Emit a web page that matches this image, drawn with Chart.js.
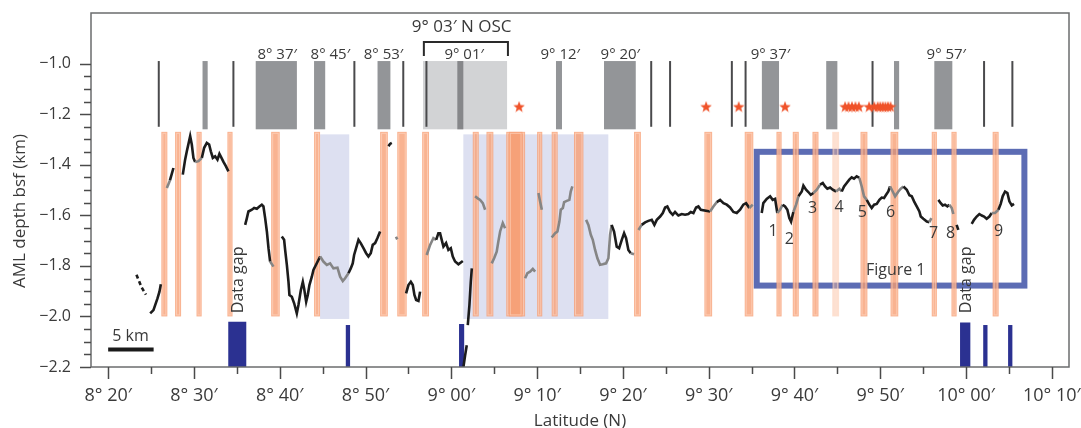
<!DOCTYPE html>
<html>
<head>
<meta charset="utf-8">
<script src="https://cdn.jsdelivr.net/npm/chart.js@4.4.1/dist/chart.umd.min.js"></script>
<style>
  html, body { margin: 0; padding: 0; background: #fff; }
  #wrap { width: 1081px; height: 428px; }
</style>
</head>
<body>
<div id="wrap"><canvas id="amlChart" width="1081" height="428"></canvas></div>
<script>
// latitude is in minutes north (8°20′ = 500), depth in km below seafloor
const latTicks = [500, 510, 520, 530, 540, 550, 560, 570, 580, 590, 600, 610];
const depthTicks = [-2.2, -2.0, -1.8, -1.6, -1.4, -1.2, -1.0];

// ridge segments (grey blocks) and fourth-order discontinuities (thin lines)
const segmentBlocks = [[511.0, 511.6], [517.2, 522.0], [524.0, 525.3], [531.4, 532.9], [552.2, 552.9],
  [557.8, 561.5], [576.2, 578.2], [583.7, 585.0], [591.6, 592.2], [596.3, 598.4]];
const segmentLines = [505.9, 514.6, 528.7, 534.4, 563.3, 565.5, 572.7, 574.3, 589.1, 602.1, 605.4];
const segmentNames = ['8° 37′', '8° 45′', '8° 53′', '9° 01′', '9° 12′', '9° 20′', '9° 37′', '9° 57′'];
const segmentNameLat = [519.7, 525.9, 532.1, 541.5, 552.7, 559.7, 577.2, 597.7];

// 9°03′N overlapping spreading centre
const oscSpan = [536.7, 546.5];
const oscLine = 537.1;
const oscBlock = [540.7, 541.4];

// vent sites
const ventLat = [547.9, 569.7, 573.5, 578.9, 585.9, 586.3, 586.7, 587.1, 587.5,
  588.7, 589.3, 589.7, 590.0, 590.3, 590.6, 590.9, 591.2];

// AML disruptions
const amlBreaks = [[506.2, 506.9], [507.8, 508.5], [510.3, 510.9], [513.9, 514.5], [519.0, 520.0], [524.0, 524.7],
  [531.7, 532.6], [533.7, 534.8], [536.6, 537.4], [542.5, 543.2], [544.1, 544.9], [546.4, 548.6], [546.7, 548.3],
  [550.0, 550.6], [551.7, 552.4], [554.3, 555.4], [561.3, 562.1], [569.5, 570.4], [574.2, 575.2], [577.9, 578.5],
  [579.8, 580.5], [582.1, 582.8], [587.7, 588.5], [591.2, 592.1], [596.0, 596.6], [598.3, 598.9], [603.1, 603.8]];
const faintBreaks = [[584.4, 585.2]];

// shaded stretches
const shadedSpans = [[524.7, 528.1], [541.4, 558.3]];

// data gaps along the track
const gapBars = [[514.0, 516.1], [527.7, 528.2], [540.9, 541.5], [599.3, 600.5], [602.0, 602.5], [604.9, 605.4]];
const gapTops = [-2.021, -2.034, -2.03, -2.024, -2.034, -2.034];

// numbered sites
const siteNames = ['1', '2', '3', '4', '5', '6', '7', '8', '9'];
const siteLat = [577.5, 579.4, 582.1, 585.2, 587.9, 591.2, 596.2, 598.2, 603.8];
const siteDepth = [-1.662, -1.697, -1.571, -1.570, -1.589, -1.589, -1.671, -1.671, -1.664];

// "Figure 1" area: lat from, lat to, depth top, depth bottom
const figureArea = [575.6, 606.8, -1.349, -1.878];

// where the picked AML reflector is drawn in grey
const grayStretches = [[506.7, 507.3], [510.1, 510.9], [519.0, 519.4], [524.5, 528.1], [533.4, 533.8], [537.0, 538.3],
  [542.6, 546.4], [548.5, 549.9], [550.1, 550.6], [551.6, 554.2], [555.6, 558.6], [561.0, 561.4], [561.7, 562.2],
  [569.9, 570.9], [574.6, 575.2], [577.9, 578.6], [579.8, 580.6], [582.2, 582.9], [584.8, 585.6], [587.5, 588.4],
  [591.1, 592.6], [595.8, 596.0], [598.0, 598.6], [602.9, 603.9]];

// AML depth picks, one array per continuous stretch
const amlProfile = [
  [[503.3, -1.835], [503.6, -1.86], [503.9, -1.885], [504.4, -1.914]],
  [[504.90, -1.988], [505.28, -1.975], [505.48, -1.955], [505.75, -1.929], [505.98, -1.902], [506.14, -1.873]],
  [[506.84, -1.492], [507.2, -1.462], [507.61, -1.413]],
  [[508.70, -1.439], [508.97, -1.380], [509.17, -1.347], [509.56, -1.287], [509.75, -1.320], [509.94, -1.373],
   [510.14, -1.389], [510.53, -1.386], [510.92, -1.373], [511.19, -1.333], [511.50, -1.314], [511.77, -1.320],
   [511.97, -1.347], [512.20, -1.373], [512.47, -1.367], [512.74, -1.380], [512.97, -1.357], [513.21, -1.373],
   [513.44, -1.389], [513.72, -1.406], [514.02, -1.426]],
  [[515.97, -1.638], [516.17, -1.611], [516.35, -1.585], [516.75, -1.578], [517.02, -1.571], [517.33, -1.574],
   [517.63, -1.565], [517.91, -1.558], [518.10, -1.565], [518.30, -1.611], [518.50, -1.664], [518.69, -1.730],
   [518.88, -1.783], [519.27, -1.803]],
  [[520.24, -1.684], [520.51, -1.697], [520.63, -1.737], [520.83, -1.796], [521.02, -1.863], [521.13, -1.915],
   [521.41, -1.922], [521.68, -1.948], [521.99, -1.988], [522.18, -1.955], [522.46, -1.896], [522.69, -1.863],
   [522.84, -1.889], [523.08, -1.942], [523.27, -1.915], [523.46, -1.876], [523.74, -1.843], [523.93, -1.816],
   [524.71, -1.763], [525.09, -1.783], [525.49, -1.796], [525.87, -1.790], [526.26, -1.810], [526.73, -1.807],
   [527.04, -1.843], [527.35, -1.860], [527.62, -1.849], [528.01, -1.829], [528.28, -1.810], [528.51, -1.790],
   [528.67, -1.757], [528.90, -1.730], [529.18, -1.697], [529.44, -1.710], [529.76, -1.730], [530.07, -1.750],
   [530.34, -1.763], [530.61, -1.750], [530.84, -1.717], [531.12, -1.710], [531.39, -1.690], [531.70, -1.664]],
  [[532.67, -1.327], [532.85, -1.318], [533.06, -1.314]],
  [[533.55, -1.685], [533.7, -1.695]],
  [[534.73, -1.909], [535.0, -1.876], [535.28, -1.863], [535.51, -1.876], [535.70, -1.915], [535.90, -1.935],
   [536.17, -1.939], [536.36, -1.902]],
  [[537.13, -1.757], [537.53, -1.717], [537.91, -1.690], [538.23, -1.697], [538.49, -1.671], [538.69, -1.671],
   [538.88, -1.697], [539.08, -1.724], [539.39, -1.710], [539.66, -1.737], [539.94, -1.730], [540.17, -1.763],
   [540.44, -1.783], [540.83, -1.794], [541.34, -1.781]],
  [[541.41, -2.20], [541.61, -2.154], [541.80, -2.114]],
  [[541.92, -2.034], [542.11, -1.955], [542.27, -1.863], [542.39, -1.810]],
  [[542.77, -1.525], [543.04, -1.532], [543.36, -1.539], [543.67, -1.552], [543.94, -1.578]],
  [[544.71, -1.790], [544.99, -1.770], [545.29, -1.744], [545.48, -1.704], [545.69, -1.664], [546.0, -1.631],
   [546.27, -1.651]],
  [[548.6, -1.849], [548.87, -1.829], [549.18, -1.823], [549.50, -1.812], [549.77, -1.823]],
  [[550.16, -1.512], [550.35, -1.545], [550.55, -1.578]],
  [[551.70, -1.688], [552.10, -1.671], [552.37, -1.664], [552.60, -1.625], [552.76, -1.578], [553.0, -1.571],
   [553.15, -1.548], [553.46, -1.543], [553.76, -1.539], [553.92, -1.506], [554.11, -1.486]],
  [[555.71, -1.618], [555.98, -1.638], [556.26, -1.677], [556.49, -1.697], [556.76, -1.737], [557.03, -1.770],
   [557.34, -1.796], [557.65, -1.794], [558.04, -1.790], [558.31, -1.770], [558.51, -1.677], [558.69, -1.638],
   [558.97, -1.664], [559.28, -1.724], [559.56, -1.730], [559.87, -1.697], [560.14, -1.671], [560.37, -1.690],
   [560.64, -1.737], [560.92, -1.750], [561.30, -1.754]],
  [[561.81, -1.658], [562.19, -1.638], [562.59, -1.628], [562.97, -1.622], [563.36, -1.618], [563.67, -1.638],
   [563.95, -1.618], [564.34, -1.605], [564.65, -1.591], [564.92, -1.569], [565.18, -1.565], [565.50, -1.587],
   [565.81, -1.598], [566.08, -1.587], [566.47, -1.601], [566.86, -1.595], [567.25, -1.598], [567.63, -1.595],
   [567.91, -1.587], [568.22, -1.591], [568.53, -1.569], [568.80, -1.565], [569.08, -1.578], [570.16, -1.585],
   [570.55, -1.565], [570.94, -1.548], [571.33, -1.539], [571.72, -1.552], [572.11, -1.558], [572.49, -1.569],
   [572.88, -1.587], [573.27, -1.591], [573.66, -1.578], [574.04, -1.558], [574.36, -1.552], [574.74, -1.571],
   [575.13, -1.558]],
  [[576.18, -1.591], [576.37, -1.552], [576.76, -1.535], [577.16, -1.525], [577.46, -1.539], [577.74, -1.535],
   [578.0, -1.591], [578.32, -1.578], [578.63, -1.558], [578.90, -1.565], [579.17, -1.578], [579.40, -1.611],
   [579.60, -1.625], [579.87, -1.587], [580.19, -1.558], [580.46, -1.525], [580.85, -1.506], [581.04, -1.483],
   [581.35, -1.499], [581.62, -1.508], [581.90, -1.519], [582.21, -1.512], [582.60, -1.499], [582.98, -1.479],
   [583.30, -1.472], [583.57, -1.486], [583.83, -1.495], [584.15, -1.490], [584.46, -1.499], [584.85, -1.506],
   [585.23, -1.495], [585.51, -1.506], [585.78, -1.486], [586.09, -1.472], [586.39, -1.459], [586.67, -1.450],
   [586.94, -1.455], [587.25, -1.446], [587.56, -1.452], [587.84, -1.486], [588.11, -1.525], [588.42, -1.539],
   [588.73, -1.558], [589.0, -1.571], [589.28, -1.558], [589.59, -1.555], [589.90, -1.539], [590.17, -1.530],
   [590.44, -1.532], [590.68, -1.519], [590.94, -1.506], [591.14, -1.486], [591.45, -1.506], [591.73, -1.525],
   [592.11, -1.506], [592.39, -1.495], [592.70, -1.486], [593.09, -1.499], [593.40, -1.521], [593.67, -1.525],
   [593.94, -1.545], [594.25, -1.565], [594.56, -1.585], [594.72, -1.605], [595.02, -1.614], [595.42, -1.625],
   [595.72, -1.627], [595.96, -1.611]],
  [[596.77, -1.539], [597.05, -1.552], [597.28, -1.561], [597.55, -1.558], [597.82, -1.565], [598.05, -1.558],
   [598.33, -1.571], [598.52, -1.595]],
  [[598.9, -1.638], [599.1, -1.658]],
  [[600.66, -1.634], [600.93, -1.618], [601.24, -1.605], [601.55, -1.595], [601.83, -1.601], [602.10, -1.605],
   [602.40, -1.614], [602.72, -1.605], [602.99, -1.591], [603.38, -1.591], [603.77, -1.578], [604.04, -1.555],
   [604.27, -1.525], [604.55, -1.506], [604.82, -1.512], [605.05, -1.545], [605.33, -1.561], [605.59, -1.555]]
];

// join the stretches into one series, with a null between them so the line breaks
const profilePoints = [];
amlProfile.forEach((run, i) => {
  if (i > 0) profilePoints.push({ x: (amlProfile[i - 1].at(-1)[0] + run[0][0]) / 2, y: null });
  run.forEach(([x, y]) => profilePoints.push({ x, y }));
});

const inGray = x => grayStretches.some(([a, b]) => x >= a && x <= b);

function latLabel(v) {
  const deg = Math.floor(v / 60);
  const min = Math.round(v - deg * 60);
  return deg + '° ' + String(min).padStart(2, '0') + '′';
}

function starImage(size, color) {
  const c = document.createElement('canvas');
  c.width = c.height = size;
  const g = c.getContext('2d');
  const r = size / 2, ri = r * 0.42;
  g.beginPath();
  for (let i = 0; i < 10; i++) {
    const a = -Math.PI / 2 + i * Math.PI / 5;
    const rr = i % 2 ? ri : r;
    g.lineTo(r + rr * Math.cos(a), r + 0.6 + rr * Math.sin(a));
  }
  g.closePath();
  g.fillStyle = color;
  g.fill();
  return c;
}

// scales keep the chart area fixed; no extra room for edge labels
function noEdgePadding(s) {
  s.paddingLeft = s.paddingRight = s.paddingTop = s.paddingBottom = 0;
}

const FONT = '"Open Sans", "DejaVu Sans", sans-serif';
const TEXT = '#3a3a3a';

function text(ctx, str, x, y, size, align, baseline) {
  ctx.font = size + 'px ' + FONT;
  ctx.fillStyle = TEXT;
  ctx.textAlign = align || 'center';
  ctx.textBaseline = baseline || 'alphabetic';
  ctx.fillText(str, x, y);
}

// everything behind the profile line
const backdrop = {
  id: 'backdrop',
  beforeDatasetsDraw(chart) {
    const { ctx, scales: { x, y } } = chart;
    const X = v => x.getPixelForValue(v), Y = v => y.getPixelForValue(v);
    ctx.save();

    // shaded stretches
    ctx.fillStyle = 'rgb(221, 224, 241)';
    shadedSpans.forEach(([a, b]) => ctx.fillRect(X(a), Y(-1.28), X(b) - X(a), Y(-2.01) - Y(-1.28)));

    // Figure 1 outline
    ctx.strokeStyle = 'rgb(92, 108, 180)';
    ctx.lineWidth = 6;
    ctx.strokeRect(X(figureArea[0]), Y(figureArea[2]), X(figureArea[1]) - X(figureArea[0]), Y(figureArea[3]) - Y(figureArea[2]));

    // AML disruptions
    const band = ([a, b], fill) => {
      const x0 = X(a), x1 = X(b), y0 = Y(-1.27), y1 = Y(-2.0);
      ctx.fillStyle = fill;
      ctx.fillRect(x0, y0, x1 - x0, y1 - y0);
      ctx.strokeStyle = 'rgba(255, 222, 205, 0.55)';
      ctx.lineWidth = 1;
      ctx.strokeRect(x0 + 1.5, y0 + 1.5, x1 - x0 - 3, y1 - y0 - 3);
    };
    amlBreaks.forEach(r => band(r, 'rgba(247, 158, 114, 0.78)'));
    faintBreaks.forEach(r => band(r, 'rgba(250, 188, 155, 0.45)'));

    // ridge segments strip
    ctx.fillStyle = '#d2d3d5';
    ctx.fillRect(X(oscSpan[0]), Y(-0.99), X(oscSpan[1]) - X(oscSpan[0]), Y(-1.26) - Y(-0.99));
    ctx.fillStyle = '#939598';
    segmentBlocks.forEach(([a, b]) => ctx.fillRect(X(a), Y(-0.99), X(b) - X(a), Y(-1.26) - Y(-0.99)));
    ctx.fillStyle = '#86878a';
    ctx.fillRect(X(oscBlock[0]), Y(-0.99), X(oscBlock[1]) - X(oscBlock[0]), Y(-1.26) - Y(-0.99));
    ctx.strokeStyle = '#4a4a4c';
    ctx.lineWidth = 2;
    segmentLines.concat([oscLine]).forEach(v => {
      ctx.beginPath();
      ctx.moveTo(X(v), Y(-0.99));
      ctx.lineTo(X(v), Y(-1.25));
      ctx.stroke();
    });

    // data gaps
    ctx.fillStyle = 'rgb(43, 49, 145)';
    gapBars.forEach(([a, b], i) => ctx.fillRect(X(a), Y(gapTops[i]), X(b) - X(a), Y(-2.2) - Y(gapTops[i])));

    ctx.restore();
  },

  afterDatasetsDraw(chart) {
    const { ctx, chartArea: area, scales: { x, y } } = chart;
    const X = v => x.getPixelForValue(v), Y = v => y.getPixelForValue(v);
    ctx.save();

    // frame
    ctx.strokeStyle = '#6b6c6e';
    ctx.lineWidth = 1.5;
    ctx.strokeRect(area.left, area.top, area.right - area.left, area.bottom - area.top);

    // tick marks, long on the labelled values
    ctx.strokeStyle = '#4a4a4a';
    ctx.lineWidth = 1.5;
    for (let v = -2.2; v <= -0.999; v += 0.05) {
      const major = depthTicks.some(t => Math.abs(t - v) < 1e-6);
      const py = Math.round(Y(v)) + 0.5;
      ctx.beginPath();
      ctx.moveTo(area.left, py);
      ctx.lineTo(area.left - (major ? 11 : 7), py);
      ctx.stroke();
    }
    for (let v = 500; v <= 610; v += 5) {
      const major = v % 10 === 0;
      const px = Math.round(X(v)) + 0.5;
      ctx.beginPath();
      ctx.moveTo(px, area.bottom);
      ctx.lineTo(px, area.bottom + (major ? 12 : 7));
      ctx.stroke();
    }

    // segment names and the OSC bracket
    segmentNames.forEach((s, i) => text(ctx, s, X(segmentNameLat[i]), Y(-0.983), 15));
    text(ctx, '9° 03′ N OSC', X(541.2), Y(-0.877), 17);
    ctx.strokeStyle = '#2a2a2a';
    ctx.lineWidth = 2;
    ctx.beginPath();
    ctx.moveTo(X(536.8), Y(-0.97));
    ctx.lineTo(X(536.8), Y(-0.915));
    ctx.lineTo(X(546.6), Y(-0.915));
    ctx.lineTo(X(546.6), Y(-0.97));
    ctx.stroke();

    // site numbers and labels
    siteNames.forEach((s, i) => text(ctx, s, X(siteLat[i]), Y(siteDepth[i]), 16, 'center', 'middle'));
    text(ctx, 'Figure 1', X(591.8), Y(-1.819), 16, 'center', 'middle');

    [515.19, 600.08].forEach(lat => {
      ctx.save();
      ctx.translate(X(lat), Y(-1.987));
      ctx.rotate(-Math.PI / 2);
      text(ctx, 'Data gap', 0, 0, 16, 'left', 'middle');
      ctx.restore();
    });

    // scale bar
    ctx.strokeStyle = '#1a1a1a';
    ctx.lineWidth = 4;
    ctx.beginPath();
    ctx.moveTo(X(500), Y(-2.131));
    ctx.lineTo(X(505.3), Y(-2.131));
    ctx.stroke();
    text(ctx, '5 km', X(502.6), Y(-2.098), 16);

    // axis titles
    text(ctx, 'Latitude (N)', (area.left + area.right) / 2, 421, 17, 'center', 'middle');
    ctx.save();
    ctx.translate(20, 211);
    ctx.rotate(-Math.PI / 2);
    text(ctx, 'AML depth bsf (km)', 0, 0, 17, 'center', 'middle');
    ctx.restore();

    ctx.restore();
  }
};

new Chart(document.getElementById('amlChart'), {
  data: {
    datasets: [
      {
        type: 'scatter',
        data: ventLat.map(v => ({ x: v, y: -1.17 })),
        pointStyle: starImage(12, '#f0532a'),
        pointRadius: 6
      },
      {
        type: 'line',
        data: profilePoints,
        borderColor: '#1c1c1c',
        borderWidth: 2.6,
        pointRadius: 0,
        tension: 0,
        spanGaps: false,
        segment: {
          borderColor: c => inGray((c.p0.parsed.x + c.p1.parsed.x) / 2) ? '#858585' : '#1c1c1c',
          borderDash: c => (c.p1.parsed.x < 504.6 ? [4, 3] : undefined)
        }
      }
    ]
  },
  options: {
    responsive: false,
    animation: false,
    layout: { padding: { top: 13, right: 12, left: 0, bottom: 0 } },
    plugins: { legend: { display: false }, tooltip: { enabled: false } },
    scales: {
      x: {
        type: 'linear',
        min: 498,
        max: 612,
        grid: { display: false, drawTicks: false },
        border: { display: false },
        afterFit: s => { s.height = 61; noEdgePadding(s); },
        afterBuildTicks: s => { s.ticks = latTicks.map(v => ({ value: v })); },
        ticks: {
          autoSkip: false,
          maxRotation: 0,
          padding: 18,
          color: TEXT,
          font: { family: FONT, size: 18 },
          callback: v => latLabel(v)
        }
      },
      y: {
        type: 'linear',
        min: -2.2,
        max: -0.8,
        grid: { display: false, drawTicks: false },
        border: { display: false },
        afterFit: s => { s.width = 91; noEdgePadding(s); },
        afterBuildTicks: s => { s.ticks = depthTicks.map(v => ({ value: v })); },
        ticks: {
          padding: 20,
          color: TEXT,
          font: { family: FONT, size: 16 },
          callback: v => '−' + Math.abs(v).toFixed(1)
        }
      }
    }
  },
  plugins: [backdrop]
});
</script>
</body>
</html>
